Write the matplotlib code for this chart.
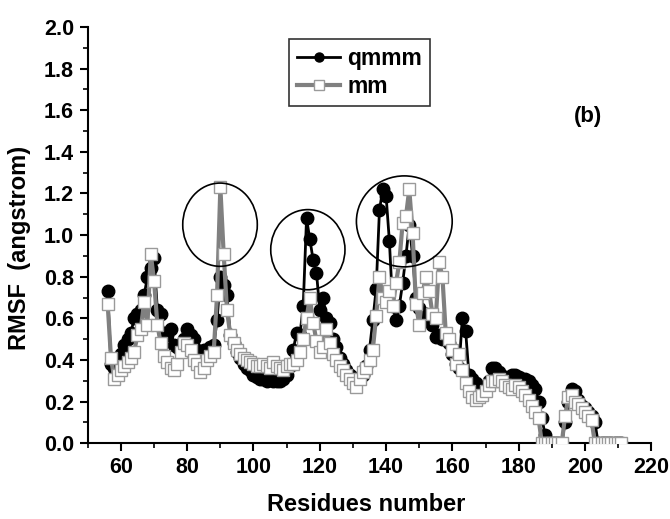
import matplotlib
matplotlib.use("Agg")
import matplotlib.pyplot as plt
from matplotlib.patches import Ellipse
import numpy as np

plt.rcParams['font.family'] = ['Liberation Sans', 'DejaVu Sans']
plt.rcParams['font.weight'] = 'bold'

residues = list(range(56, 212))

qmmm = [0.73, 0.38, 0.36, 0.40, 0.43, 0.47, 0.50, 0.53, 0.60, 0.62,   # 56-65
        0.64, 0.71, 0.80, 0.84, 0.89, 0.64, 0.62, 0.53, 0.52, 0.55,   # 66-75
        0.47, 0.46, 0.44, 0.50, 0.55, 0.52, 0.50, 0.45, 0.44, 0.45,   # 76-85
        0.44, 0.46, 0.47, 0.59, 0.80, 0.76, 0.71, 0.52, 0.48, 0.44,   # 86-95
        0.41, 0.38, 0.36, 0.35, 0.33, 0.32, 0.31, 0.31, 0.30, 0.31,   # 96-105
        0.30, 0.30, 0.30, 0.31, 0.33, 0.37, 0.45, 0.53, 0.52, 0.66,   # 106-115
        1.08, 0.98, 0.88, 0.82, 0.64, 0.70, 0.60, 0.58, 0.50, 0.46,   # 116-125
        0.41, 0.38, 0.35, 0.33, 0.31, 0.30, 0.32, 0.33, 0.37, 0.45,   # 126-135
        0.59, 0.74, 1.12, 1.22, 1.19, 0.97, 0.66, 0.59, 0.66, 0.77,   # 136-145
        0.90, 1.05, 0.90, 0.70, 0.65, 0.62, 0.62, 0.60, 0.57, 0.51,   # 146-155
        0.52, 0.50, 0.52, 0.48, 0.43, 0.38, 0.36, 0.60, 0.54, 0.33,   # 156-165
        0.31, 0.29, 0.27, 0.25, 0.26, 0.30, 0.36, 0.36, 0.34, 0.32,   # 166-175
        0.32, 0.32, 0.33, 0.33, 0.32, 0.31, 0.31, 0.30, 0.28, 0.26,   # 176-185
        0.20, 0.12, 0.04, 0.00, 0.00, 0.00, 0.00, 0.00, 0.10, 0.20,   # 186-195
        0.26, 0.25, 0.21, 0.18, 0.17, 0.15, 0.13, 0.10, 0.00, 0.00,   # 196-205
        0.00, 0.00, 0.00, 0.00, 0.00, 0.00]                           # 206-211

mm = [0.67, 0.41, 0.31, 0.33, 0.35, 0.37, 0.39, 0.41, 0.44, 0.52,     # 56-65
      0.55, 0.68, 0.57, 0.91, 0.78, 0.57, 0.48, 0.42, 0.39, 0.36,     # 66-75
      0.35, 0.38, 0.44, 0.48, 0.47, 0.45, 0.40, 0.38, 0.34, 0.36,     # 76-85
      0.40, 0.42, 0.44, 0.71, 1.23, 0.91, 0.64, 0.52, 0.48, 0.45,     # 86-95
      0.43, 0.41, 0.40, 0.39, 0.38, 0.37, 0.37, 0.38, 0.37, 0.36,     # 96-105
      0.39, 0.37, 0.36, 0.35, 0.37, 0.38, 0.38, 0.40, 0.44, 0.50,     # 106-115
      0.60, 0.70, 0.58, 0.49, 0.44, 0.46, 0.55, 0.48, 0.43, 0.40,     # 116-125
      0.37, 0.35, 0.33, 0.31, 0.29, 0.27, 0.31, 0.34, 0.36, 0.40,     # 126-135
      0.45, 0.61, 0.80, 0.70, 0.68, 0.73, 0.66, 0.77, 0.87, 1.06,     # 136-145
      1.09, 1.22, 1.01, 0.67, 0.57, 0.72, 0.80, 0.73, 0.62, 0.60,     # 146-155
      0.87, 0.80, 0.53, 0.50, 0.45, 0.38, 0.43, 0.35, 0.29, 0.25,     # 156-165
      0.22, 0.21, 0.22, 0.23, 0.25, 0.28, 0.30, 0.30, 0.31, 0.30,     # 166-175
      0.28, 0.27, 0.26, 0.28, 0.27, 0.25, 0.23, 0.21, 0.18, 0.15,     # 176-185
      0.12, 0.00, 0.00, 0.00, 0.00, 0.00, 0.00, 0.00, 0.13, 0.22,     # 186-195
      0.23, 0.20, 0.19, 0.17, 0.15, 0.13, 0.11, 0.00, 0.00, 0.00,     # 196-205
      0.00, 0.00, 0.00, 0.00, 0.00, 0.00]                             # 206-211

x_ticks = [60, 80, 100, 120, 140, 160, 180, 200, 220]
y_ticks = [0.0, 0.2, 0.4, 0.6, 0.8, 1.0, 1.2, 1.4, 1.6, 1.8, 2.0]

# highlighted regions (center x, center y, width, height)
ell_cx = [89.9, 116.4, 145.5]
ell_cy = [1.05, 0.93, 1.066]
ell_w = [22.5, 22.4, 28.9]
ell_h = [0.40, 0.385, 0.437]

fig = plt.figure(figsize=(6.7, 5.19), dpi=100)
ax = fig.add_axes([0.131, 0.146, 0.841, 0.802])

ax.plot(residues, qmmm, color='black', lw=2.0, marker='o', ms=9,
        mfc='black', mec='black', label='qmmm', zorder=3)
ax.plot(residues, mm, color='#808080', lw=3.0, marker='s', ms=9,
        mfc='white', mec='#9a9a9a', mew=1.0, label='mm', zorder=4)

for cx, cy, w, h in zip(ell_cx, ell_cy, ell_w, ell_h):
    ax.add_patch(Ellipse((cx, cy), w, h, fill=False, ec='black', lw=1.2, zorder=5))

ax.set_xlim(55, 220)
ax.set_ylim(0, 2.0)
ax.set_xticks(x_ticks)
ax.set_yticks(y_ticks)
ax.set_yticklabels([f"{v:.1f}" for v in y_ticks])
ax.set_xticks(np.arange(50, 221, 10), minor=True)
ax.set_yticks(np.arange(0, 2.01, 0.1), minor=True)
ax.tick_params(axis='both', which='major', direction='out', length=6, width=1.5,
               labelsize=15.5, pad=4)
ax.tick_params(axis='both', which='minor', direction='out', length=3.5, width=1.2)
for lab in ax.get_xticklabels() + ax.get_yticklabels():
    lab.set_fontweight('bold')

ax.spines['top'].set_visible(False)
ax.spines['right'].set_visible(False)
ax.spines['left'].set_linewidth(1.5)
ax.spines['bottom'].set_linewidth(1.5)

ax.set_xlabel('Residues number', fontsize=17, fontweight='bold')
ax.xaxis.set_label_coords(0.494, -0.12)
ax.set_ylabel('RMSF  (angstrom)', fontsize=17, fontweight='bold')
ax.yaxis.set_label_coords(-0.10, 0.47)

ax.text(201, 1.57, '(b)', fontsize=16, fontweight='bold', ha='center', va='center')

leg = ax.legend(loc='upper left', bbox_to_anchor=(0.357, 0.972), fancybox=False,
                edgecolor='black', handlelength=1.9, numpoints=1,
                borderpad=0.35, labelspacing=0.25, handletextpad=0.3,
                borderaxespad=0.0,
                prop={'weight': 'bold', 'size': 16.5})
leg.get_frame().set_linewidth(1.2)
for line in leg.get_lines():
    line.set_markersize(6.5)

fig.savefig('out.png', dpi=100)
